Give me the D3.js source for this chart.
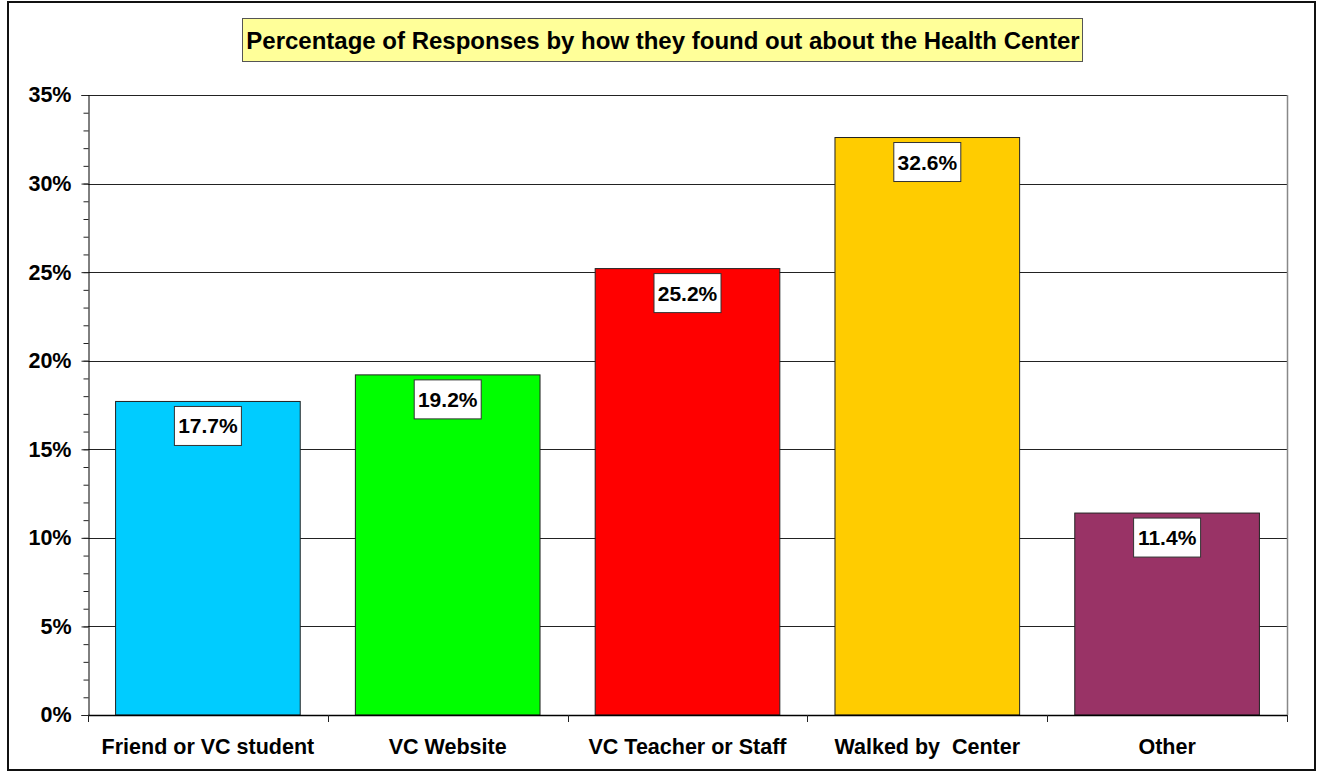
<!DOCTYPE html>
<html>
<head>
<meta charset="utf-8">
<script src="https://cdn.jsdelivr.net/npm/d3@7"></script>
<style>
  body { margin: 0; background: #fff; }
  text { font-family: Arial, "Liberation Sans", sans-serif; font-weight: bold; fill: #000; }
</style>
</head>
<body>
<div class="render"></div>
<script>
'use strict';

var categories = ['Friend or VC student', 'VC Website', 'VC Teacher or Staff', 'Walked by  Center', 'Other'];
var values = [17.7, 19.2, 25.2, 32.6, 11.4];
var colors = ['#00ccff', '#00ff00', '#ff0000', '#ffcc00', '#993366'];
var yTicks = [0, 5, 10, 15, 20, 25, 30, 35];
var title = 'Percentage of Responses by how they found out about the Health Center';

function draw() {
   var w = 1324;
   var h = 772;
   var left = 88, right = 1287, top = 95, bottom = 715;

   var svg = d3.select('.render').append('svg').attr('width', w).attr('height', h);

   // outer chart border
   svg.append('rect').attr('x', 8).attr('y', 2).attr('width', 1307).attr('height', 768)
      .attr('fill', '#fff').attr('stroke', '#111').attr('stroke-width', 2);

   var yScale = d3.scaleLinear().domain([0, 35]).range([bottom, top]);
   var xScale = d3.scaleBand().domain(categories).range([left, right]).paddingInner(0.23).paddingOuter(0.115);
   var xBand = d3.scaleBand().domain(categories).range([left, right]);

   // gridlines
   svg.append('g').selectAll('line').data(yTicks.slice(1)).enter().append('line')
      .attr('x1', left).attr('x2', right)
      .attr('y1', function (d) { return Math.round(yScale(d)) + 0.5; })
      .attr('y2', function (d) { return Math.round(yScale(d)) + 0.5; })
      .attr('stroke', '#222').attr('stroke-width', 1);

   // plot area right border
   svg.append('line').attr('x1', right + 0.5).attr('x2', right + 0.5).attr('y1', top).attr('y2', bottom)
      .attr('stroke', '#888').attr('stroke-width', 1.5);

   // bars
   svg.selectAll('rect.bar').data(values).enter().append('rect').attr('class', 'bar')
      .attr('x', function (d, i) { return xScale(categories[i]); })
      .attr('y', function (d) { return yScale(d); })
      .attr('width', xScale.bandwidth())
      .attr('height', function (d) { return yScale(0) - yScale(d); })
      .attr('fill', function (d, i) { return colors[i]; })
      .attr('stroke', '#222').attr('stroke-width', 1);

   // y axis with minor ticks
   var minor = d3.range(0, 36, 1);
   svg.append('g').attr('transform', 'translate(' + (left + 0.5) + ',0)')
      .call(d3.axisLeft(yScale).tickValues(minor).tickSize(5).tickFormat(''))
      .call(function (g) { g.select('.domain').remove(); g.selectAll('line').attr('stroke', '#222'); });
   var yAxis = d3.axisLeft(yScale).tickValues(yTicks).tickSize(7).tickPadding(10)
      .tickFormat(function (d) { return d + '%'; });
   svg.append('g').attr('transform', 'translate(' + (left + 0.5) + ',0)').call(yAxis)
      .call(function (g) {
         g.select('.domain').attr('stroke', '#000');
         g.selectAll('line').attr('stroke', '#222');
         g.selectAll('text').style('font-size', '21.5px').style('font-family', 'Arial, "Liberation Sans", sans-serif')
            .style('font-weight', 'bold').attr('fill', '#000');
      });

   // x axis line and category boundary ticks
   svg.append('line').attr('x1', left).attr('x2', right).attr('y1', bottom + 0.5).attr('y2', bottom + 0.5)
      .attr('stroke', '#000').attr('stroke-width', 1.5);
   var bounds = categories.map(function (c) { return xBand(c); }).concat([right]);
   svg.selectAll('line.xtick').data(bounds).enter().append('line').attr('class', 'xtick')
      .attr('x1', function (d) { return Math.round(d) + 0.5; })
      .attr('x2', function (d) { return Math.round(d) + 0.5; })
      .attr('y1', bottom).attr('y2', bottom + 7)
      .attr('stroke', '#222').attr('stroke-width', 1);

   svg.selectAll('text.xlab').data(categories).enter().append('text').attr('class', 'xlab')
      .attr('x', function (d) { return xBand(d) + xBand.bandwidth() / 2; })
      .attr('y', 754).attr('text-anchor', 'middle').style('font-size', '21.5px')
      .style('white-space', 'pre')
      .text(function (d) { return d; });

   // data labels
   var lab = svg.selectAll('g.lab').data(values).enter().append('g').attr('class', 'lab')
      .attr('transform', function (d, i) {
         return 'translate(' + (xScale(categories[i]) + xScale.bandwidth() / 2) + ',' + (yScale(d) + 5) + ')';
      });
   lab.append('rect').attr('x', -33.5).attr('y', 0).attr('width', 67).attr('height', 39)
      .attr('fill', '#fff').attr('stroke', '#333').attr('stroke-width', 1);
   lab.append('text').attr('x', 0).attr('y', 27).attr('text-anchor', 'middle').style('font-size', '21px')
      .text(function (d) { return d.toFixed(1) + '%'; });

   // title
   svg.append('rect').attr('x', 242.5).attr('y', 18.5).attr('width', 840).attr('height', 43)
      .attr('fill', '#ffff99').attr('stroke', '#555').attr('stroke-width', 1);
   svg.append('text').text(title).attr('x', 663).attr('y', 48.5).attr('text-anchor', 'middle')
      .style('font-size', '24px');
}

draw();
</script>
</body>
</html>
